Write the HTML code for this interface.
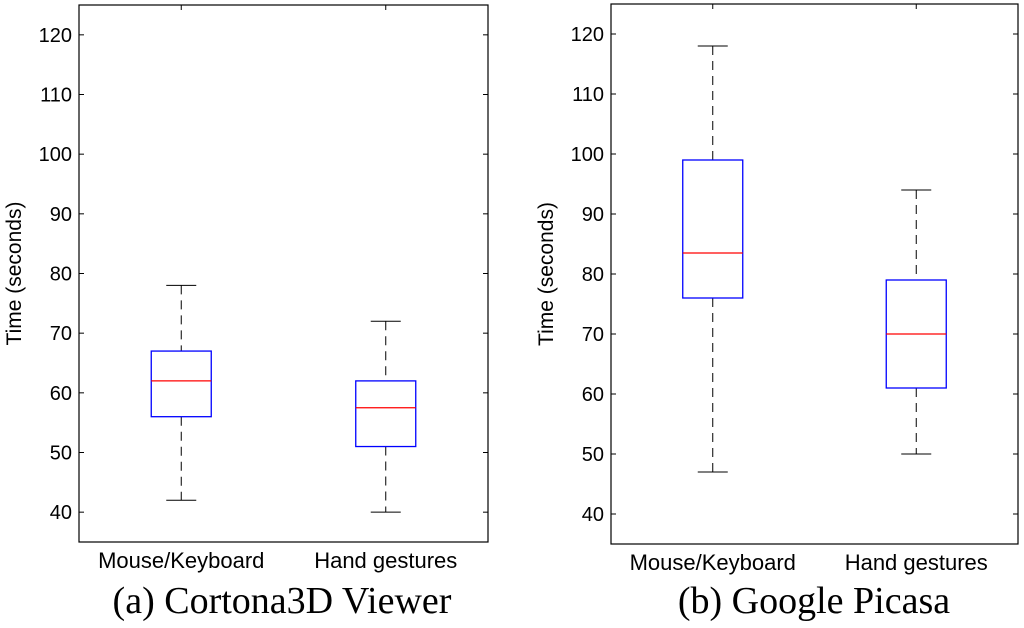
<!DOCTYPE html>
<html><head><style>
body{margin:0;background:#fff;width:1024px;height:623px;overflow:hidden}
svg{font-family:"Liberation Sans",sans-serif}
</style></head><body>
<svg width="1024" height="623">
<g id="p1"></g>
<g id="p2"></g>
<text x="282" y="613" text-anchor="middle" font-family="Liberation Serif,serif" font-size="38">(a) Cortona3D Viewer</text>
<text x="814" y="613" text-anchor="middle" font-family="Liberation Serif,serif" font-size="38">(b) Google Picasa</text>
</svg>
<script>
const categories=["Mouse/Keyboard","Hand gestures"];
const yTicks=[40,50,60,70,80,90,100,110,120];
const cortonaMin=[42,40];
const cortonaQ1=[56,51];
const cortonaMed=[62,57.5];
const cortonaQ3=[67,62];
const cortonaMax=[78,72];
const picasaMin=[47,50];
const picasaQ1=[76,61];
const picasaMed=[83.5,70];
const picasaQ3=[99,79];
const picasaMax=[118,94];
const NS="http://www.w3.org/2000/svg";
function mk(g,tag,a,txt){const e=document.createElementNS(NS,tag);for(const k in a)e.setAttribute(k,a[k]);if(txt!==undefined)e.textContent=txt;g.appendChild(e);return e;}
function panel(id,L,R,T,B,mins,q1,med,q3,maxs,key){
 const g=document.getElementById(id);
 const y=v=>B-(v-35)/(125-35)*(B-T);
 const x=i=>L+(R-L)*(i*2+1)/4;
 yTicks.forEach(t=>{
  const yy=y(t);
  let l=mk(g,'line',{x1:L,x2:L+5,y1:yy,y2:yy,stroke:'#000'});
  
  l=mk(g,'line',{x1:R,x2:R-5,y1:yy,y2:yy,stroke:'#000'});
  
  const tx=mk(g,'text',{x:L-7,y:yy+7,'text-anchor':'end','font-size':20},t);
  
 });
 categories.forEach((c,i)=>{
  const cx=x(i),w=30;
  let e=mk(g,'line',{x1:cx,x2:cx,y1:T,y2:T+5,stroke:'#000'});
  
  e=mk(g,'line',{x1:cx,x2:cx,y1:y(maxs[i]),y2:y(q3[i]),stroke:'#000','stroke-dasharray':'9,6'});
  
  e=mk(g,'line',{x1:cx,x2:cx,y1:y(q1[i]),y2:y(mins[i]),stroke:'#000','stroke-dasharray':'9,6'});
  
  e=mk(g,'line',{x1:cx-15,x2:cx+15,y1:y(maxs[i]),y2:y(maxs[i]),stroke:'#000'});
  
  e=mk(g,'line',{x1:cx-15,x2:cx+15,y1:y(mins[i]),y2:y(mins[i]),stroke:'#000'});
  
  e=mk(g,'rect',{x:cx-w,y:y(q3[i]),width:2*w,height:y(q1[i])-y(q3[i]),fill:'none',stroke:'#00f','stroke-width':1.3});
  
  e=mk(g,'line',{x1:cx-w,x2:cx+w,y1:y(med[i]),y2:y(med[i]),stroke:'#f00','stroke-width':1.3});
  
  e=mk(g,'text',{x:cx,y:B+26,'text-anchor':'middle','font-size':22},c);
  
 });
 let f=mk(g,'rect',{x:L,y:T,width:R-L,height:B-T,fill:'none',stroke:'#000','stroke-width':1.2});
 
 const yl=mk(g,'text',{x:0,y:0,'text-anchor':'middle','font-size':21,transform:`translate(${L-58},${(T+B)/2}) rotate(-90)`},'Time (seconds)');
 
}
panel('p1',79,488,5,542,cortonaMin,cortonaQ1,cortonaMed,cortonaQ3,cortonaMax,'cortona');
panel('p2',611,1018,4,544,picasaMin,picasaQ1,picasaMed,picasaQ3,picasaMax,'picasa');
</script>
</body></html>
